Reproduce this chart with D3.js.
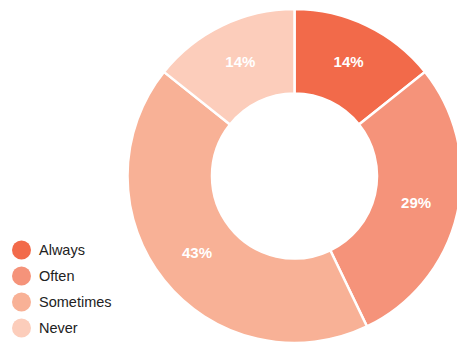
<!DOCTYPE html>
<html>
<head>
<meta charset="utf-8">
<script src="https://cdn.jsdelivr.net/npm/d3@7"></script>
<style>
  body { margin: 0; background: #fff; }
  svg { display: block; font-family: "Liberation Sans", Arial, sans-serif; }
</style>
</head>
<body>
<div id="chart"></div>
<script>
// data
const categories = ["Always", "Often", "Sometimes", "Never"];
const values = [1, 2, 3, 1];
const colors = ["#f26a4a", "#f5937a", "#f8b196", "#fccdbb"];

const width = 457;
const height = 342;
const cx = 294.5, cy = 176;
const outerR = 167, innerR = 82.5;

const svg = d3.select("#chart")
  .append("svg")
  .attr("width", width)
  .attr("height", height);

const total = d3.sum(values);
const pie = d3.pie().sort(null).value(d => d);
const arc = d3.arc().innerRadius(innerR).outerRadius(outerR);

const g = svg.append("g").attr("transform", `translate(${cx},${cy})`);

const arcs = pie(values);

g.selectAll(".slice")
  .data(arcs)
  .enter()
  .append("path")
  .attr("class", "slice")
  .attr("d", arc)
  .attr("fill", (d, i) => colors[i])
  .attr("stroke", "#fff")
  .attr("stroke-width", 2.5);

// percent labels, at slice centroids
g.selectAll(".label")
  .data(arcs)
  .enter()
  .append("text")
  .attr("class", "label")
  .attr("transform", d => `translate(${arc.centroid(d)})`)
  .attr("text-anchor", "middle")
  .attr("dy", "0.25em")
  .attr("fill", "#fff")
  .attr("font-weight", "bold")
  .attr("font-size", 15)
  .text(d => Math.round(d.data / total * 100) + "%");

// legend
const legend = svg.append("g").attr("transform", "translate(21.5,250)");
const item = legend.selectAll(".item")
  .data(categories)
  .enter()
  .append("g")
  .attr("class", "item")
  .attr("transform", (d, i) => `translate(0,${i * 26})`);

item.append("circle")
  .attr("r", 9.5)
  .attr("fill", (d, i) => colors[i]);

item.append("text")
  .attr("x", 17.5)
  .attr("dy", "0.35em")
  .attr("font-size", 14.5)
  .attr("fill", "#222")
  .text(d => d);
</script>
</body>
</html>
